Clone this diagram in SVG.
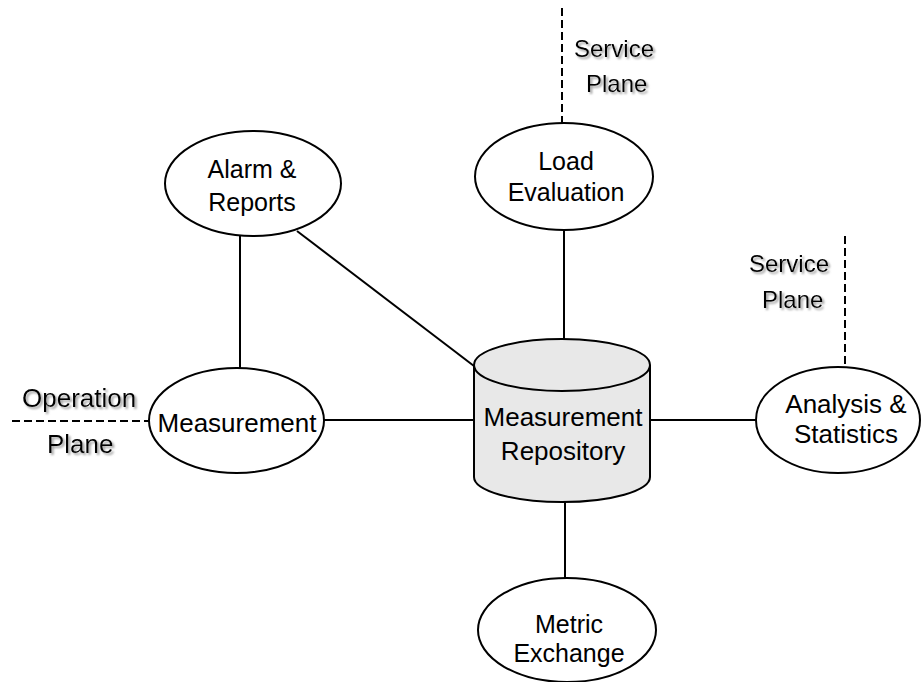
<svg xmlns="http://www.w3.org/2000/svg" width="924" height="682" viewBox="0 0 924 682">
<defs>
<style>
.node{fill:#fff;stroke:#000;stroke-width:2}
.cyl{fill:#e8e8e8;stroke:#000;stroke-width:2}
.conn{stroke:#000;stroke-width:2;fill:none}
.dash{stroke:#000;stroke-width:2;fill:none;stroke-dasharray:8 4}
.lbl{font-family:"Liberation Sans",Arial,sans-serif;font-size:25px;fill:#000;text-anchor:middle}
.big{font-size:26px}
.pl{font-family:"Liberation Sans",Arial,sans-serif;font-size:24px;fill:#000;filter:url(#sh)}
</style>
<filter id="sh" x="-20%" y="-30%" width="140%" height="160%">
<feDropShadow dx="2" dy="2" stdDeviation="0.8" flood-color="#888" flood-opacity="0.8"/>
</filter>
</defs>
<g id="connectors">
<line class="conn" x1="240" y1="235" x2="240" y2="369"/>
<line class="conn" x1="297" y1="231" x2="474" y2="366"/>
<line class="conn" x1="324" y1="420" x2="474" y2="420"/>
<line class="conn" x1="650" y1="420" x2="756" y2="420"/>
<line class="conn" x1="564" y1="229" x2="564" y2="340"/>
<line class="conn" x1="565" y1="500" x2="565" y2="579"/>
<line class="dash" x1="562" y1="8" x2="562" y2="123"/>
<line class="dash" x1="845" y1="236" x2="845" y2="367"/>
<line class="dash" x1="12" y1="421" x2="149" y2="421"/>
</g>
<g id="plane-service-top">
<text class="pl" x="574" y="57">Service</text>
<text class="pl" x="586" y="92">Plane</text>
</g>
<g id="plane-service-right">
<text class="pl" x="749" y="272">Service</text>
<text class="pl" x="762" y="308">Plane</text>
</g>
<g id="plane-operation">
<text class="pl" x="22" y="407" style="font-size:26px">Operation</text>
<text class="pl" x="47" y="453" style="font-size:26px">Plane</text>
</g>
<g id="alarm-reports">
<ellipse class="node" cx="253" cy="183.5" rx="88" ry="52.5"/>
<text class="lbl" x="252" y="178">Alarm &amp;</text>
<text class="lbl" x="252" y="211">Reports</text>
</g>
<g id="load-evaluation">
<ellipse class="node" cx="564" cy="176.5" rx="89" ry="53.5"/>
<text class="lbl" x="566" y="170">Load</text>
<text class="lbl" x="566" y="201">Evaluation</text>
</g>
<g id="measurement">
<ellipse class="node" cx="236.5" cy="420.5" rx="87.5" ry="52.5"/>
<text class="lbl big" x="237" y="432">Measurement</text>
</g>
<g id="measurement-repository">
<path class="cyl" d="M474 365 L474 477 A88 25 0 0 0 650 477 L650 365 A88 26 0 0 0 474 365 Z"/>
<path class="cyl" d="M474 365 A88 26 0 0 0 650 365" fill="none"/>
<text class="lbl big" x="563" y="426">Measurement</text>
<text class="lbl big" x="563" y="460">Repository</text>
</g>
<g id="analysis-statistics">
<ellipse class="node" cx="838" cy="420" rx="82" ry="53"/>
<text class="lbl big" x="846" y="413">Analysis &amp;</text>
<text class="lbl big" x="846" y="443">Statistics</text>
</g>
<g id="metric-exchange">
<ellipse class="node" cx="567" cy="630" rx="89" ry="52"/>
<text class="lbl" x="569" y="633">Metric</text>
<text class="lbl" x="569" y="662">Exchange</text>
</g>
</svg>
